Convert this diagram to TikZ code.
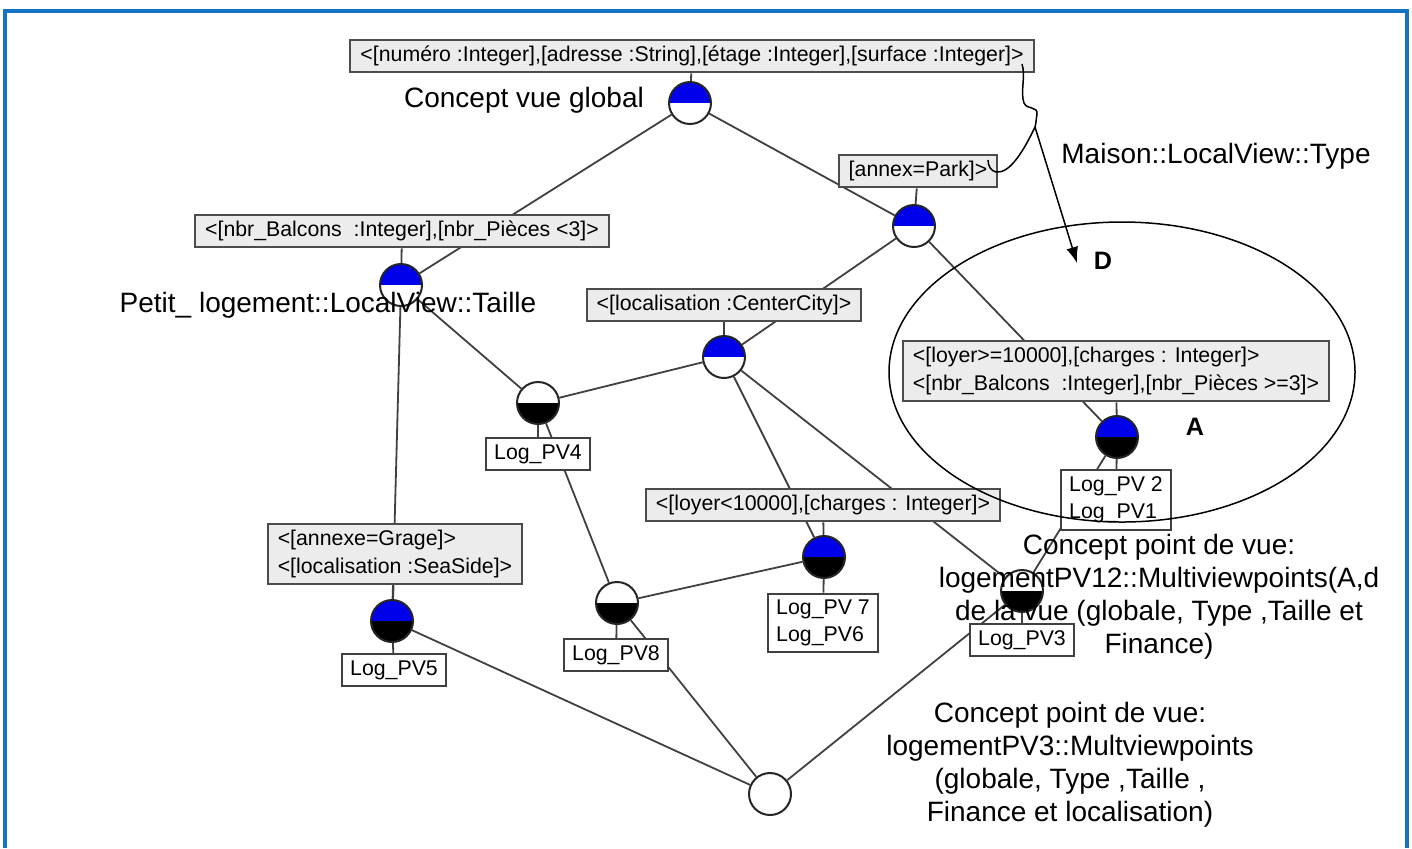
\documentclass[tikz,border=0pt]{standalone}
\usepackage{fontspec}
\setmainfont{Liberation Sans}
\usetikzlibrary{arrows.meta,shapes.geometric}
\pgfdeclarelayer{bg}
\pgfsetlayers{bg,main}

\definecolor{frameblue}{RGB}{20,115,195}
\definecolor{cblue}{RGB}{0,0,235}
\definecolor{boxgray}{RGB}{236,236,236}
\definecolor{edgegray}{RGB}{64,64,64}

\begin{document}
\begin{tikzpicture}[x=0.5pt,y=-0.5pt,
  attr/.style={draw=black!70, line width=1pt, fill=boxgray,
    font=\fontsize{10.65}{14}\selectfont, inner xsep=5pt, inner ysep=3.2pt, align=left},
  ext/.style={draw=black!75, line width=1pt, fill=white,
    font=\fontsize{10.65}{13.5}\selectfont, inner xsep=4.3pt, inner ysep=3.2pt, align=left},
  cpt/.style={circle, draw=black!85, line width=1pt, minimum size=21pt, inner sep=0pt, fill=white},
  bw/.style={cpt, path picture={\fill[cblue] (path picture bounding box.north west) rectangle (path picture bounding box.east);}},
  bb/.style={cpt, fill=black, path picture={\fill[cblue] (path picture bounding box.north west) rectangle (path picture bounding box.east);}},
  wb/.style={cpt, path picture={\fill[black] (path picture bounding box.south west) rectangle (path picture bounding box.east);}},
  link/.style={draw=edgegray, line width=0.9pt},
  lbl/.style={font=\fontsize{14}{16.5}\selectfont, inner sep=0pt, align=center},
  letterlbl/.style={font=\fontsize{12.6}{14}\selectfont\bfseries, inner sep=0pt},
  thinline/.style={line width=0.75pt},
]
\useasboundingbox (0,0) rectangle (1412,848);

% frame
\draw[frameblue, line width=2pt] (5,848) -- (5,10.5) -- (1406.5,10.5) -- (1406.5,848);

% concepts of the lattice
\node[bw] (c1) at (690,103) {};
\node[bw] (c2) at (914,226) {};
\node[bw] (c3) at (401,285) {};
\node[bw] (c4) at (724,357) {};
\node[wb] (c5) at (538,403) {};
\node[bb] (c6) at (1117,437) {};
\node[bb] (c7) at (824,557) {};
\node[wb] (c8) at (1022,591) {};
\node[bb] (c9) at (392,621) {};
\node[wb] (c10) at (617,603) {};
\node[cpt] (c11) at (770,794) {};

% intents
\node[attr] (t1) at (692,56) {<[numéro :Integer],[adresse :String],[étage :Integer],[surface :Integer]>};
\node[attr] (t2) at (918,171) {[annex=Park]>};
\node[attr] (t3) at (402,231) {<[nbr\_Balcons\ \ :Integer],[nbr\_Pièces <3]>};
\node[attr] (t4) at (724,305) {<[localisation :CenterCity]>};
\node[attr] (t6) at (1116,371) {<[loyer>=10000],[charges : Integer]>\\<[nbr\_Balcons\ \ :Integer],[nbr\_Pièces >=3]>};
\node[attr] (t7) at (823,505) {<[loyer<10000],[charges : Integer]>};
\node[attr] (t9) at (395,554) {<[annexe=Grage]>\\<[localisation :SeaSide]>};

% extents
\node[ext] (e5) at (538,454) {Log\_PV4};
\node[ext] (e6) at (1116,500) {Log\_PV 2\\Log\_PV1};
\node[ext] (e7) at (823,623) {Log\_PV 7\\Log\_PV6};
\node[ext] (e8) at (1022,640) {Log\_PV3};
\node[ext] (e9) at (394,670) {Log\_PV5};
\node[ext] (e10) at (616,655) {Log\_PV8};

% lattice edges and label ticks
\begin{pgfonlayer}{bg}
  \draw[link] (c1) -- (c3);
  \draw[link] (c1) -- (c2);
  \draw[link] (c2) -- (c4);
  \draw[link] (c2) -- (c6);
  \draw[link] (c3) -- (c5);
  \draw[link] (c3) -- (c9);
  \draw[link] (c4) -- (c5);
  \draw[link] (c4) -- (c7);
  \draw[link] (c4) -- (c8);
  \draw[link] (c5) -- (c10);
  \draw[link] (c7) -- (c10);
  \draw[link] (c6) -- (c8);
  \draw[link] (c9) -- (c11);
  \draw[link] (c10) -- (c11);
  \draw[link] (c8) -- (c11);
  \draw[link] (t1) -- (c1);
  \draw[link] (t2) -- (c2);
  \draw[link] (t3) -- (c3);
  \draw[link] (t4) -- (c4);
  \draw[link] (t6) -- (c6);
  \draw[link] (t7) -- (c7);
  \draw[link] (t9) -- (c9);
  \draw[link] (c5) -- (e5);
  \draw[link] (c6) -- (e6);
  \draw[link] (c7) -- (e7);
  \draw[link] (c8) -- (e8);
  \draw[link] (c9) -- (e9);
  \draw[link] (c10) -- (e10);
\end{pgfonlayer}

% highlighted zone
\node[draw, thinline, ellipse, minimum width=233pt, minimum height=150pt, inner sep=0pt] (zone) at (1122,372) {};

% brace from the top intent to the annex intent, with the arrow to D
\coordinate (b0) at (1022,64);
\coordinate (bk) at (1035,127);
\coordinate (b1) at (988,160);
\coordinate (dtip) at (1077,263);
\draw[thinline] (b0) .. controls (1026,76) and (1020,92) .. (1024,103)
  .. controls (1027,110) and (1038,106) .. (1037,114)
  .. controls (1036,120) and (1036,124) .. (bk)
  .. controls (1024,150) and (1010,174) .. (996,172)
  .. controls (991,171) and (988,166) .. (b1);
\draw[thinline, -{Latex[length=8pt,width=6pt]}] (bk) -- (dtip);

% texts
\node[lbl] (lg) at (524,100) {Concept vue global};
\node[lbl] (lp) at (328,305) {Petit\_ logement::LocalView::Taille};
\node[lbl] (lm) at (1216,156) {Maison::LocalView::Type};
\node[letterlbl] (ld) at (1103,261) {D};
\node[letterlbl] (la) at (1195,427) {A};
\node[lbl] (lv12) at (1159,597) {Concept point de vue:\\logementPV12::Multiviewpoints(A,d\\de la vue (globale, Type ,Taille et\\Finance)};
\node[lbl] (lv3) at (1070,765) {Concept point de vue:\\logementPV3::Multviewpoints\\(globale, Type ,Taille ,\\Finance et localisation)};
\end{tikzpicture}
\end{document}
